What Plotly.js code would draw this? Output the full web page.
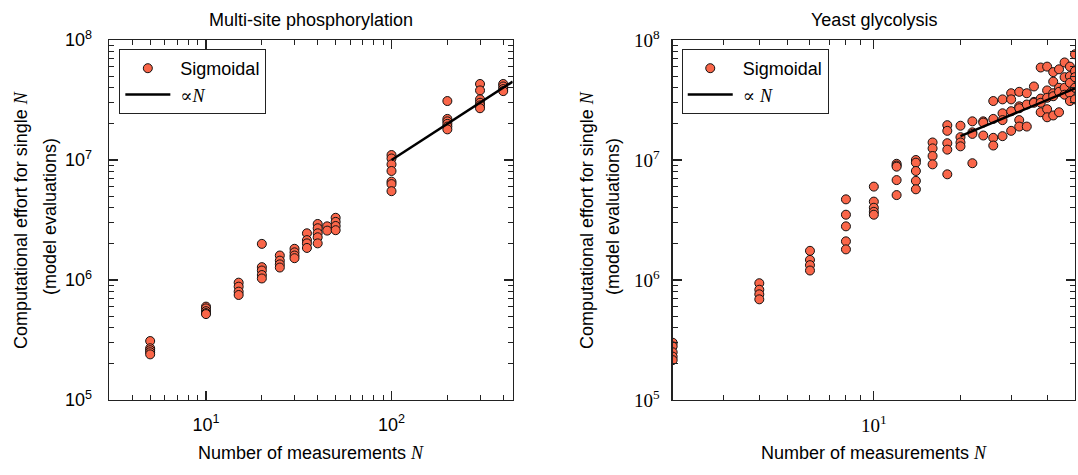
<!DOCTYPE html>
<html><head><meta charset="utf-8">
<script src="https://cdn.plot.ly/plotly-3.0.1.min.js"></script>
<style>html,body{margin:0;padding:0;background:#fff}#chart{width:1078px;height:475px}</style>
</head><body><div id="chart"></div>
<script>
// ---- data: Multi-site phosphorylation ----
const leftN = [5,10,15,20,25,30,35,40,45,50,100,200,300,400];
const leftEffort = [
  [3.1e5,2.7e5,2.6e5,2.5e5,2.4e5],
  [6.0e5,5.8e5,5.5e5,5.3e5,5.2e5],
  [9.5e5,8.8e5,8.0e5,7.5e5],
  [2.0e6,1.28e6,1.2e6,1.1e6,1.03e6],
  [1.6e6,1.45e6,1.35e6,1.27e6],
  [1.82e6,1.7e6,1.6e6,1.52e6],
  [2.45e6,2.15e6,2.02e6,1.85e6],
  [2.93e6,2.7e6,2.45e6,2.27e6,2.02e6],
  [2.8e6,2.58e6],
  [3.3e6,3.05e6,2.82e6,2.6e6],
  [1.1e7,1.03e7,9.2e6,8.1e6,6.6e6,6.3e6,5.5e6],
  [3.1e7,2.2e7,2.1e7,2.0e7,1.9e7,1.8e7],
  [4.3e7,3.8e7,3.2e7,3.0e7,2.85e7,2.7e7],
  [4.3e7,4.1e7,3.9e7,3.75e7]
];
const leftFitN = [100, 450];
const leftFitEffort = [1.0e7, 4.5e7];

// ---- data: Yeast glycolysis ----
const rightN = [2,4,6,8,10,12,14,16,18,20,22,24,26,28,30,32,34,36,38,40,42,44,46,48,50];
const rightEffort = [
  [3.0e5,2.8e5,2.5e5,2.3e5,2.15e5],
  [9.4e5,8.3e5,7.6e5,6.9e5],
  [1.75e6,1.47e6,1.33e6,1.2e6],
  [4.7e6,3.5e6,2.8e6,2.1e6,1.8e6],
  [6.0e6,4.5e6,4.0e6,3.7e6,3.5e6],
  [9.3e6,9.0e6,8.8e6,6.8e6,5.1e6],
  [1.0e7,9.5e6,8.1e6,6.7e6,5.7e6],
  [1.4e7,1.25e7,1.08e7,9.2e6],
  [1.95e7,1.75e7,1.38e7,1.22e7,7.6e6],
  [1.93e7,1.55e7,1.4e7,1.3e7],
  [2.1e7,1.7e7,1.65e7,9.4e6],
  [2.1e7,2.05e7,1.6e7],
  [3.1e7,2.2e7,1.53e7,1.32e7],
  [3.2e7,2.45e7,2.15e7,1.58e7],
  [3.6e7,3.2e7,2.55e7,1.75e7],
  [3.7e7,2.8e7,2.7e7,2.15e7,1.9e7],
  [3.6e7,2.9e7,1.9e7],
  [4.1e7,3.05e7,3.0e7],
  [5.9e7,3.25e7,3.0e7,2.5e7],
  [6.0e7,3.8e7,3.3e7,2.65e7,2.27e7],
  [5.4e7,4.5e7,3.6e7,3.4e7,2.35e7],
  [5.7e7,4.0e7,3.7e7,2.5e7],
  [6.5e7,4.9e7,4.0e7,3.5e7],
  [6.0e7,5.0e7,4.4e7,3.6e7,3.1e7],
  [7.6e7,5.5e7,4.9e7,4.0e7,3.2e7]
];
const rightFitN = [20, 50];
const rightFitEffort = [1.58e7, 3.95e7];

const yTickVals = [1e5, 1e6, 1e7, 1e8];
const yTickText = ['10<sup>5</sup>','10<sup>6</sup>','10<sup>7</sup>','10<sup>8</sup>'];
const leftXTickVals = [10, 100];
const leftXTickText = ['10<sup>1</sup>','10<sup>2</sup>'];
const rightXTickVals = [10];
const rightXTickText = ['10<sup>1</sup>'];

// ---- helpers ----
function flatten(ns, ys){
  const x=[], y=[];
  ns.forEach((n,i)=>ys[i].forEach(v=>{x.push(n); y.push(v);}));
  return {x, y};
}
function minorVals(lo, hi){
  const out=[];
  for(let e=lo;e<hi;e++) for(let d=2;d<=9;d++) out.push(d*Math.pow(10,e));
  return out;
}
const L = flatten(leftN, leftEffort);
const R = flatten(rightN, rightEffort);

const SANS = 'Liberation Sans, Arial, Helvetica, sans-serif';
const SERIF = 'Liberation Serif, DejaVu Serif, serif';
const NI = "<span style=\"font-family:'Liberation Serif',serif;font-style:italic\">N</span>";
const PROP = "<span style=\"font-family:'DejaVu Serif',serif\">\u221D</span>";
const GAP = '\u00a0';
const axisColor = '#222';
const markerStyle = {size: 9, color: '#fa6649', line: {color: '#111', width: 1}};

const traces = [
  {x: L.x, y: L.y, xaxis:'x', yaxis:'y', type:'scatter', mode:'markers', name:GAP + 'Sigmoidal',
   marker: markerStyle, legend:'legend'},
  {x: leftFitN, y: leftFitEffort, xaxis:'x', yaxis:'y', type:'scatter', mode:'lines',
   name:GAP + PROP + NI, line:{color:'#000', width:2.5}, legend:'legend'},
  {x: R.x, y: R.y, xaxis:'x2', yaxis:'y2', type:'scatter', mode:'markers', name:GAP + 'Sigmoidal',
   marker: markerStyle, legend:'legend2'},
  {x: rightFitN, y: rightFitEffort, xaxis:'x2', yaxis:'y2', type:'scatter', mode:'lines',
   name:GAP + PROP + '\u00a0' + NI, line:{color:'#000', width:2.5}, legend:'legend2'}
];

function axBase(extra){
  return Object.assign({
    type:'log', showgrid:false, zeroline:false, showline:true, linecolor:axisColor, linewidth:1.3,
    mirror:'allticks', ticks:'inside', ticklen:9, tickwidth:1.1, tickcolor:axisColor,
    tickmode:'array', fixedrange:true
  }, extra);
}

const legendBase = {
  xanchor:'left', yanchor:'top', y:0.975, bgcolor:'#fff', bordercolor:axisColor, borderwidth:1,
  font:{family:SANS, size:18, color:'#000'}, itemwidth:45, tracegroupgap:0
};

function ann(text, px, py, extra){
  return Object.assign({text:text, xref:'paper', yref:'paper', x:(px-109)/966, y:1-(py-40)/360,
    xanchor:'center', yanchor:'middle', showarrow:false, font:{family:SANS, size:18, color:'#000'}}, extra||{});
}

const layout = {
  width:1078, height:475,
  margin:{l:109, r:3, t:40, b:75},
  paper_bgcolor:'#fff', plot_bgcolor:'#fff',
  showlegend:true,
  font:{family:SANS, size:18, color:'#000'},
  xaxis: axBase({domain:[0,0.4179], anchor:'y', range:[Math.log10(3), Math.log10(450)],
    tickvals:leftXTickVals, ticktext:leftXTickText, ticklabelstandoff:8,
    tickfont:{family:SANS, size:18, color:'#000'},
    minor:{tickmode:'array', tickvals:minorVals(0,3), ticks:'inside', ticklen:5, tickwidth:1, tickcolor:axisColor}}),
  yaxis: axBase({domain:[0,1], anchor:'x', range:[5,8],
    tickvals:yTickVals, ticktext:yTickText, ticklabelstandoff:12,
    tickfont:{family:SANS, size:18, color:'#000'},
    minor:{tickmode:'array', tickvals:minorVals(5,8), ticks:'inside', ticklen:5, tickwidth:1, tickcolor:axisColor}}),
  xaxis2: axBase({domain:[0.5835,1], anchor:'y2', range:[Math.log10(2), Math.log10(50)],
    tickvals:rightXTickVals, ticktext:rightXTickText, ticklabelstandoff:8,
    tickfont:{family:SERIF, size:19, color:'#000'},
    minor:{tickmode:'array', tickvals:minorVals(0,2), ticks:'inside', ticklen:5, tickwidth:1, tickcolor:axisColor}}),
  yaxis2: axBase({domain:[0,1], anchor:'x2', range:[5,8],
    tickvals:yTickVals, ticktext:yTickText, ticklabelstandoff:8,
    tickfont:{family:SERIF, size:19, color:'#000'},
    minor:{tickmode:'array', tickvals:minorVals(5,8), ticks:'inside', ticklen:5, tickwidth:1, tickcolor:axisColor}}),
  legend: Object.assign({x:0.0107}, legendBase),
  legend2: Object.assign({x:0.5929}, legendBase),
  annotations: [
    ann('Multi-site phosphorylation', 311, 20),
    ann('Yeast glycolysis', 874, 20),
    ann('Number of measurements ' + NI, 311, 453),
    ann('Number of measurements ' + NI, 874, 453),
    ann('Computational effort for single ' + NI, 21, 220, {textangle:-90}),
    ann('(model evaluations)', 50, 217, {textangle:-90}),
    ann('Computational effort for single ' + NI, 587, 220, {textangle:-90}),
    ann('(model evaluations)', 613, 217, {textangle:-90})
  ]
};

Plotly.newPlot('chart', traces, layout, {staticPlot:true, displayModeBar:false});
</script>
</body></html>
